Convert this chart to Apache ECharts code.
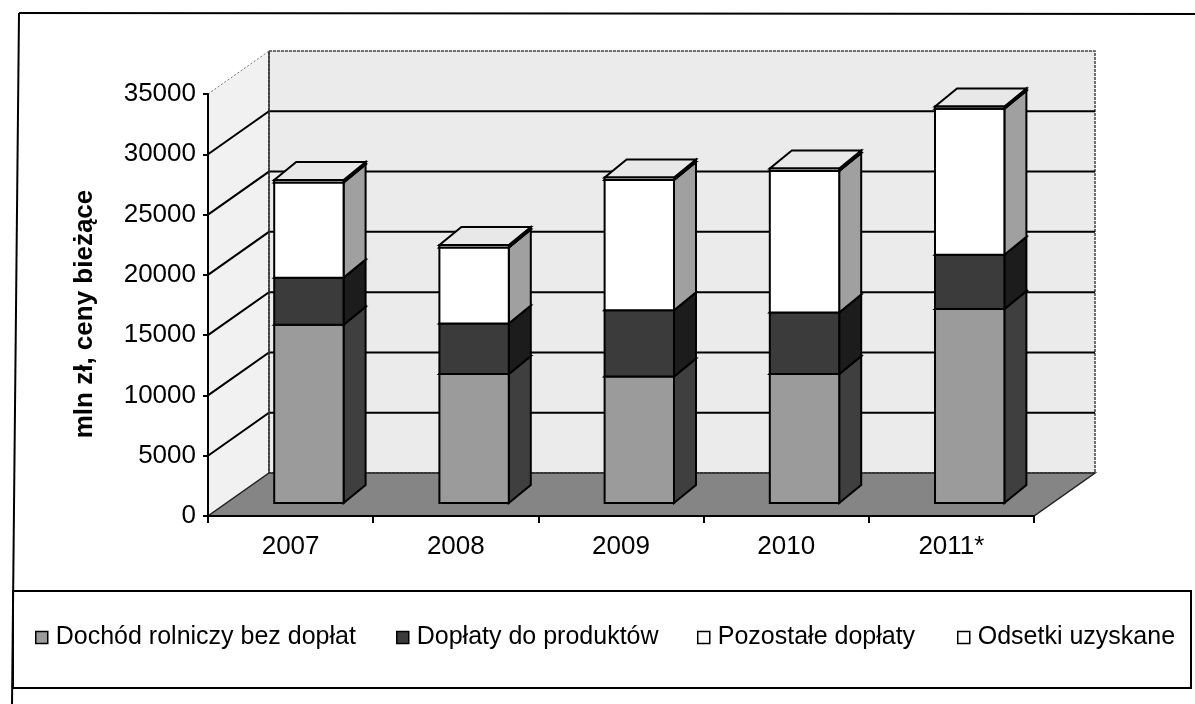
<!DOCTYPE html>
<html>
<head>
<meta charset="utf-8">
<script src="https://cdn.jsdelivr.net/npm/echarts@6/dist/echarts.min.js"></script>
<style>
  html, body { margin: 0; padding: 0; background: #fff; }
  #chart { width: 1195px; height: 704px; }
</style>
</head>
<body>
<div id="chart"></div>
<script>
// dane (mln zł, ceny bieżące)
const years = ['2007', '2008', '2009', '2010', '2011*']
const dochodBezDoplat = [14800, 10700, 10500, 10700, 16100]
const doplatyDoProduktow = [3900, 4200, 5500, 5100, 4500]
const pozostaleDoplaty = [7900, 6300, 10800, 11750, 12100]
const odsetkiUzyskane = [200, 200, 200, 200, 200]
const yTicks = [0, 5000, 10000, 15000, 20000, 25000, 30000, 35000]

const seriesNames = ['Dochód rolniczy bez dopłat', 'Dopłaty do produktów', 'Pozostałe dopłaty', 'Odsetki uzyskane']
const seriesValues = [dochodBezDoplat, doplatyDoProduktow, pozostaleDoplaty, odsetkiUzyskane]

// kolory: przód, bok, góra
const looks = [
  { front: '#9b9b9b', side: '#3f3f3f', top: '#d8d8d8' },
  { front: '#3b3b3b', side: '#1c1c1c', top: '#6a6a6a' },
  { front: '#ffffff', side: '#a0a0a0', top: '#e8e8e8' },
  { front: '#ffffff', side: '#a0a0a0', top: '#e8e8e8' },
]

const FONT = '"Liberation Sans", Arial, sans-serif'
// głębia "3D"
const WALL = { dx: 61, dy: -43 }
const PLANE = 0.3 // położenie przodu słupków w głębi
const BAR = { dx: 22, dy: -18 }

const yMax = yTicks[yTicks.length - 1]

// tło: ściana boczna, tylna, podłoga, linie siatki
function renderWalls(params, api) {
  const band = api.size([1, 0])[0]
  const x0 = api.coord([0, 0])[0] - band / 2
  const xN = api.coord([years.length - 1, 0])[0] + band / 2
  const y = (v) => api.coord([0, v])[1]
  const y0 = y(0), yT = y(yMax)
  const children = []
  children.push({
    type: 'polygon',
    shape: { points: [[x0, y0], [x0, yT], [x0 + WALL.dx, yT + WALL.dy], [x0 + WALL.dx, y0 + WALL.dy]] },
    style: { fill: '#f1f1f1', stroke: null },
  })
  children.push({
    type: 'rect',
    shape: { x: x0 + WALL.dx, y: yT + WALL.dy, width: xN - x0, height: y0 - yT },
    style: { fill: '#ebebeb', stroke: '#444', lineWidth: 1.5, lineDash: [3, 1] },
  })
  yTicks.forEach((v) => {
    if (v === 0) return
    const yy = y(v)
    children.push({
      type: 'polyline',
      shape: { points: [[x0, yy], [x0 + WALL.dx, yy + WALL.dy], [xN + WALL.dx, yy + WALL.dy]] },
      style: v === yMax
        ? { stroke: '#777', lineWidth: 1, lineDash: [2, 2], fill: null }
        : { stroke: '#000', lineWidth: 2, fill: null },
    })
  })
  children.push({
    type: 'line',
    shape: { x1: x0 + WALL.dx, y1: y0 + WALL.dy, x2: x0 + WALL.dx, y2: yT + WALL.dy },
    style: { stroke: '#333', lineWidth: 1.5 },
  })
  children.push({
    type: 'polygon',
    shape: { points: [[x0, y0], [xN, y0], [xN + WALL.dx, y0 + WALL.dy], [x0 + WALL.dx, y0 + WALL.dy]] },
    style: { fill: '#858585', stroke: '#222', lineWidth: 1.5 },
  })
  return { type: 'group', children }
}

// segment słupka jako prostopadłościan
function makeBoxRenderer(look) {
  return function (params, api) {
    const band = api.size([1, 0])[0]
    const w = band * 0.42
    const b = api.coord([api.value(0), api.value(1)])
    const t = api.coord([api.value(0), api.value(2)])
    const xl = b[0] - w / 2 + WALL.dx * PLANE
    const xr = xl + w
    const yb = b[1] + WALL.dy * PLANE
    const yt = t[1] + WALL.dy * PLANE
    return {
      type: 'group',
      children: [
        {
          type: 'polygon',
          shape: { points: [[xr, yb], [xr + BAR.dx, yb + BAR.dy], [xr + BAR.dx, yt + BAR.dy], [xr, yt]] },
          style: { fill: look.side, stroke: '#000', lineWidth: 2 },
        },
        {
          type: 'polygon',
          shape: { points: [[xl, yt], [xr, yt], [xr + BAR.dx, yt + BAR.dy], [xl + BAR.dx, yt + BAR.dy]] },
          style: { fill: look.top, stroke: '#000', lineWidth: 2 },
        },
        {
          type: 'rect',
          shape: { x: xl, y: yt, width: w, height: yb - yt },
          style: { fill: look.front, stroke: '#000', lineWidth: 2 },
        },
      ],
    }
  }
}

// skumulowane podstawy
const bases = years.map(() => 0)
const barSeries = seriesValues.map((vals, i) => {
  const data = vals.map((v, k) => {
    const item = [k, bases[k], bases[k] + v]
    bases[k] += v
    return item
  })
  return {
    type: 'custom',
    name: seriesNames[i],
    renderItem: makeBoxRenderer(looks[i]),
    data,
    encode: { x: 0, y: [1, 2] },
    itemStyle: { color: looks[i].front },
    clip: false,
    z: 3 + i,
  }
})

const legendLefts = [35, 396, 697, 957]

const chart = echarts.init(document.getElementById('chart'))
chart.setOption({
  animation: false,
  backgroundColor: '#fff',
  grid: { left: 208, right: 161, top: 94, bottom: 188 },
  xAxis: {
    type: 'category',
    data: years,
    axisLine: { lineStyle: { color: '#000', width: 2 } },
    axisTick: { show: true, interval: 0, length: 7, lineStyle: { color: '#000', width: 2 } },
    axisLabel: { color: '#000', fontSize: 26, fontFamily: FONT, margin: 18 },
    z: 10,
  },
  yAxis: {
    type: 'value',
    min: 0,
    max: yMax,
    interval: 5000,
    name: 'mln zł, ceny bieżące',
    nameLocation: 'middle',
    nameGap: 110,
    nameTextStyle: { color: '#000', fontSize: 26, fontWeight: 'bold', fontFamily: FONT, padding: [0, 18, 0, 0] },
    axisLine: { show: true, lineStyle: { color: '#000', width: 2 } },
    axisTick: { show: true, length: 5, lineStyle: { color: '#000', width: 2 } },
    axisLabel: { color: '#000', fontSize: 26, fontFamily: FONT, margin: 12, formatter: (v) => String(v) },
    splitLine: { show: false },
    z: 10,
  },
  legend: seriesNames.map((name, i) => ({
    data: [{ name, icon: 'rect', itemStyle: { color: looks[i].front, borderColor: '#000', borderWidth: 1.5 } }],
    left: legendLefts[i],
    top: 625,
    itemWidth: 12,
    itemHeight: 12,
    itemGap: 0,
    padding: 0,
    selectedMode: false,
    textStyle: { color: '#000', fontSize: 25, fontFamily: FONT, padding: [0, 0, 0, 3] },
  })),
  graphic: [
    { type: 'line', shape: { x1: 19, y1: 13, x2: 1195, y2: 14 }, style: { stroke: '#000', lineWidth: 2 } },
    { type: 'line', shape: { x1: 19, y1: 13, x2: 12, y2: 704 }, style: { stroke: '#000', lineWidth: 2 } },
    { type: 'rect', shape: { x: 13, y: 591, width: 1178, height: 97 }, style: { fill: null, stroke: '#000', lineWidth: 2 } },
  ],
  series: [
    {
      type: 'custom',
      name: 'tlo',
      renderItem: renderWalls,
      data: [[0, 0]],
      encode: { x: 0, y: 1 },
      clip: false,
      silent: true,
      z: 1,
    },
    ...barSeries,
  ],
})
</script>
</body>
</html>
